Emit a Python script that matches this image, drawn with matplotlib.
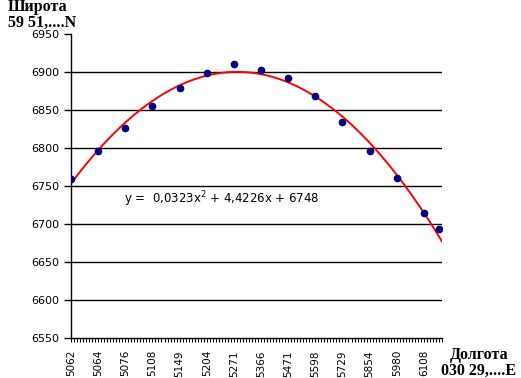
import matplotlib
matplotlib.use("Agg")
import matplotlib.pyplot as plt
import numpy as np
from matplotlib.ticker import MultipleLocator

# row numbers of the measured points in the source table
rows = [0, 9, 18, 27, 36, 45, 54, 63, 72, 81, 90, 99, 108, 117, 122]
lat = [6758.8, 6796, 6827, 6856, 6879, 6899.5, 6910.5, 6903, 6893,
       6868.7, 6834, 6796, 6760.5, 6714, 6693]
lon_labels = ["5062", "5064", "5076", "5108", "5149", "5204", "5271",
              "5366", "5471", "5598", "5729", "5854", "5980", "6108"]
n_rows = 123
equation = "y =  0,0323x$^2$ + 4,4226x + 6748"

fig = plt.figure(figsize=(5.21, 3.78), dpi=100)
ax = fig.add_axes([71 / 521, 40.4 / 378, 371 / 521, 303.2 / 378])

# horizontal grid lines (none at the very top)
yt = np.arange(6550, 6951, 50)
for v in yt[1:-1]:
    ax.axhline(v, color="black", lw=1.0, zorder=1)

coef = np.polyfit(rows, lat, 2)
xs = np.linspace(0, n_rows, 300)
ax.plot(xs, np.polyval(coef, xs), color="red", lw=1.4, zorder=2)
ax.plot(rows, lat, "o", color="#000080", ms=4.5, zorder=3)

ax.set_xlim(0, n_rows)
ax.set_ylim(6550, 6950)
ax.set_yticks(yt)
ax.set_yticklabels([str(v) for v in yt], fontsize=8)
ax.set_xticks(rows[:len(lon_labels)])
ax.set_xticklabels(lon_labels, rotation=90, fontsize=7.5)
ax.xaxis.set_minor_locator(MultipleLocator(1))
ax.tick_params(axis="x", which="both", length=3, width=0.8, direction="out", pad=6)
ax.tick_params(axis="y", length=5, width=1, direction="out")

for s in ["top", "right"]:
    ax.spines[s].set_visible(False)
for s in ["left", "bottom"]:
    ax.spines[s].set_linewidth(1.0)

ax.text(17.5, 6733, equation, fontsize=8.5, va="center")

fig.text(8 / 521, 1 - 15 / 378, "Широта\n59 51,....N", family="Liberation Serif",
         fontweight="bold", fontsize=11.5, va="center", ha="left", linespacing=1.0)
fig.text(479 / 521, 1 - 363 / 378, "Долгота\n030 29,....E", family="Liberation Serif",
         fontweight="bold", fontsize=11.5, va="center", ha="center", linespacing=1.0)

fig.savefig("out.png", dpi=100)
